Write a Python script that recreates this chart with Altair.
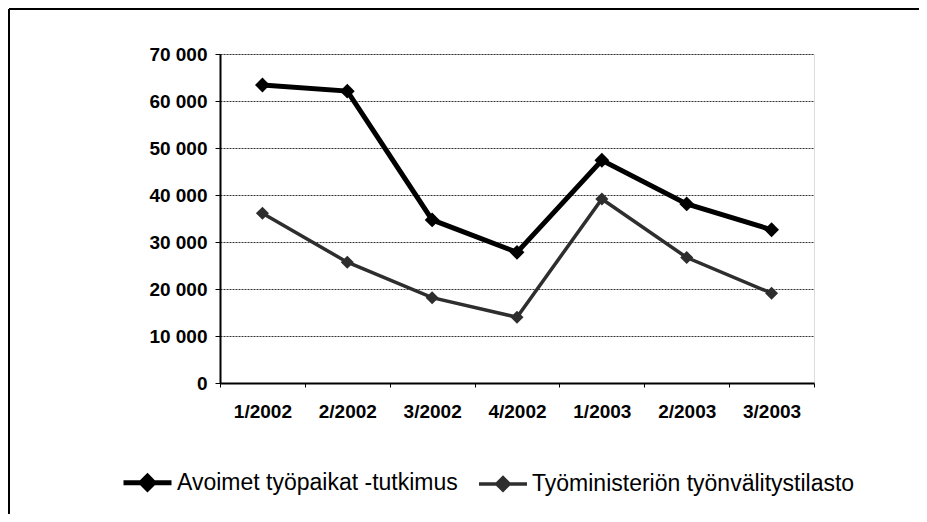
import altair as alt
import pandas as pd

categories = ["1/2002", "2/2002", "3/2002", "4/2002", "1/2003", "2/2003", "3/2003"]
series_names = ["Avoimet työpaikat -tutkimus", "Työministeriön työnvälitystilasto"]
avoimet = [63400, 62100, 34700, 27800, 47400, 38100, 32600]
tyoministerio = [36100, 25700, 18150, 14000, 39150, 26700, 19100]
y_ticks = [0, 10000, 20000, 30000, 40000, 50000, 60000, 70000]

rows = []
for c, a, t in zip(categories, avoimet, tyoministerio):
    rows.append({"period": c, "series": series_names[0], "value": a})
    rows.append({"period": c, "series": series_names[1], "value": t})
df = pd.DataFrame(rows)

W, H = 594, 329
PL, PT, PR, PB = 212, 46, 105, 131

x_enc = alt.X(
    "period:N", sort=categories, bandPosition=0.5,
    scale=alt.Scale(type="band", paddingInner=0, paddingOuter=0),
    axis=alt.Axis(title=None, labelAngle=0, tickBand="extent", grid=False,
                  labelFont="Liberation Sans", labelFontWeight="bold", labelFontSize=19,
                  labelColor="#000", labelPadding=15, tickSize=4, tickColor="#000",
                  domainColor="#000", domainWidth=2),
)
y_enc = alt.Y(
    "value:Q",
    scale=alt.Scale(domain=[0, 70000], nice=False),
    axis=alt.Axis(title=None, values=y_ticks, grid=True, gridDash=[2, 1], gridColor="#333",
                  gridWidth=1, labelFont="Liberation Sans", labelFontWeight="bold",
                  labelFontSize=19, labelColor="#000", labelPadding=8, tickSize=5,
                  tickColor="#000", domainColor="#000", domainWidth=2,
                  labelExpr="replace(format(datum.value, ','), ',', ' ')"),
)

legend = alt.Legend(
    title=None, orient="none", legendX=-99, legendY=402, direction="horizontal",
    symbolType="M-1,0H1M-0.26,0L0,-0.26L0.26,0L0,0.26Z", symbolSize=2304,
    symbolFillColor="#000", labelFont="Liberation Sans", labelFontSize=23,
    labelColor="#000", labelOffset=3, columnPadding=14, padding=0, labelLimit=0,
)
color_enc = alt.Color("series:N", scale=alt.Scale(domain=series_names, range=["#000000", "#2e2e2e"]),
                      legend=legend)
sw_enc = alt.StrokeWidth("series:N", scale=alt.Scale(domain=series_names, range=[5, 3.5]), legend=legend)

base = alt.Chart(df)
lines = base.mark_line().encode(x=x_enc, y=y_enc, color=color_enc, strokeWidth=sw_enc)
points1 = base.transform_filter(alt.datum.series == series_names[0]).mark_point(
    shape="diamond", filled=True, opacity=1, size=220).encode(x=x_enc, y=y_enc, color=color_enc)
points2 = base.transform_filter(alt.datum.series == series_names[1]).mark_point(
    shape="diamond", filled=True, opacity=1, size=170).encode(x=x_enc, y=y_enc, color=color_enc)

frame_df = pd.DataFrame({"k": [0]})
frame_left = alt.Chart(frame_df).mark_rule(color="#000", strokeWidth=2).encode(
    x=alt.value(-211), y=alt.value(-45), y2=alt.value(H + PB))
frame_top = alt.Chart(frame_df).mark_rule(color="#000", strokeWidth=2).encode(
    x=alt.value(-211), x2=alt.value(W + PR), y=alt.value(-45))

chart = alt.layer(frame_left, frame_top, lines, points1, points2).properties(
    width=W, height=H,
    autosize=alt.AutoSizeParams(type="none"),
    padding={"left": PL, "top": PT, "right": PR, "bottom": PB},
).configure_view(stroke="#222", strokeWidth=1.5).configure(background="white")

chart.save("out.html", embed_options={"renderer": "svg", "actions": False})
